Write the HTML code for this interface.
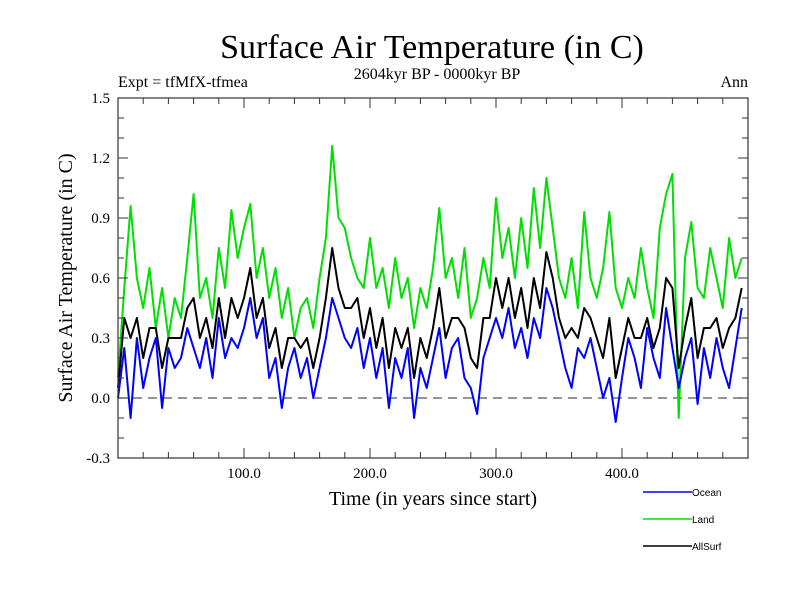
<!DOCTYPE html>
<html><head><meta charset="utf-8"><style>
body{margin:0;background:#fff}
svg text{font-family:"Liberation Serif",serif}
</style></head><body>
<svg id="c" width="800" height="600" xmlns="http://www.w3.org/2000/svg">
<text x="432" y="58" font-size="34" text-anchor="middle">Surface Air Temperature (in C)</text>
<text x="437" y="79" font-size="16" text-anchor="middle">2604kyr BP - 0000kyr BP</text>
<text x="118" y="87" font-size="16">Expt = tfMfX-tfmea</text>
<text x="748" y="87" font-size="16" text-anchor="end">Ann</text>
<text x="0" y="0" font-size="20" text-anchor="middle" transform="translate(72,278) rotate(-90)">Surface Air Temperature (in C)</text>
<text x="433" y="505" font-size="20" text-anchor="middle">Time (in years since start)</text>
<g id="series"></g>
<g id="axes"></g>
<g>
<line x1="643" y1="492" x2="692" y2="492" stroke="#0000ff" stroke-width="1.5"/>
<text x="692" y="496" font-size="10" style="font-family:'Liberation Sans',sans-serif">Ocean</text>
<line x1="643" y1="519" x2="692" y2="519" stroke="#00e000" stroke-width="1.5"/>
<text x="692" y="523" font-size="10" style="font-family:'Liberation Sans',sans-serif">Land</text>
<line x1="643" y1="546" x2="692" y2="546" stroke="#000" stroke-width="1.5"/>
<text x="692" y="550" font-size="10" style="font-family:'Liberation Sans',sans-serif">AllSurf</text>
</g>
</svg>
<script>
const years = [];
for (let i = 0; i < 100; i++) years.push(i * 5);
const land = [0.1,0.55,0.96,0.6,0.45,0.65,0.35,0.55,0.3,0.5,
0.4,0.7,1.02,0.5,0.6,0.4,0.75,0.55,0.94,0.7,
0.85,0.97,0.6,0.75,0.5,0.65,0.4,0.55,0.3,0.45,
0.5,0.35,0.6,0.8,1.26,0.9,0.85,0.7,0.6,0.55,
0.8,0.55,0.65,0.45,0.7,0.5,0.6,0.35,0.55,0.45,
0.65,0.95,0.6,0.7,0.5,0.75,0.4,0.5,0.7,0.55,
1.0,0.7,0.85,0.6,0.9,0.65,1.05,0.75,1.1,0.85,
0.6,0.5,0.7,0.45,0.93,0.6,0.5,0.65,0.93,0.55,
0.45,0.6,0.5,0.75,0.55,0.4,0.85,1.02,1.12,-0.1,
0.7,0.88,0.55,0.5,0.75,0.6,0.45,0.8,0.6,0.7];
const ocean = [0.0,0.25,-0.1,0.3,0.05,0.2,0.3,-0.05,0.25,0.15,
0.2,0.35,0.25,0.15,0.3,0.1,0.4,0.2,0.3,0.25,
0.35,0.5,0.3,0.4,0.1,0.2,-0.05,0.15,0.25,0.1,
0.2,0.0,0.15,0.3,0.5,0.4,0.3,0.25,0.35,0.15,
0.3,0.1,0.25,-0.05,0.2,0.1,0.25,-0.1,0.15,0.05,
0.2,0.35,0.1,0.25,0.3,0.1,0.05,-0.08,0.2,0.3,
0.4,0.3,0.45,0.25,0.35,0.2,0.4,0.3,0.55,0.45,
0.3,0.15,0.05,0.25,0.2,0.3,0.15,0.0,0.1,-0.12,
0.1,0.3,0.2,0.05,0.35,0.2,0.1,0.45,0.25,0.05,
0.2,0.3,-0.03,0.25,0.1,0.3,0.15,0.05,0.25,0.45];
const allsurf = [0.05,0.4,0.3,0.4,0.2,0.35,0.35,0.15,0.3,0.3,
0.3,0.45,0.5,0.3,0.4,0.25,0.5,0.3,0.5,0.4,
0.5,0.65,0.4,0.5,0.25,0.35,0.15,0.3,0.3,0.25,
0.3,0.15,0.3,0.5,0.75,0.55,0.45,0.45,0.5,0.3,
0.45,0.25,0.4,0.15,0.35,0.25,0.35,0.1,0.3,0.2,
0.35,0.55,0.3,0.4,0.4,0.35,0.2,0.15,0.4,0.4,
0.6,0.45,0.6,0.4,0.55,0.35,0.6,0.45,0.73,0.6,
0.4,0.3,0.35,0.3,0.45,0.4,0.3,0.2,0.4,0.1,
0.25,0.4,0.3,0.3,0.4,0.25,0.35,0.6,0.55,0.15,
0.35,0.5,0.2,0.35,0.35,0.4,0.25,0.35,0.4,0.55];
const yTickVals = [-0.3,0.0,0.3,0.6,0.9,1.2,1.5];
const yTickLabels = ["-0.3","0.0","0.3","0.6","0.9","1.2","1.5"];
const xTickVals = [100,200,300,400];
const xTickLabels = ["100.0","200.0","300.0","400.0"];

const L=118,R=748,T=98,B=458;
const xs = v => L + (v/500)*(R-L);
const ys = v => B - (v+0.3)/1.8*(B-T);
const NS="http://www.w3.org/2000/svg";
const sg=document.getElementById('series'), ag=document.getElementById('axes');
function mk(tag,attrs,parent){const e=document.createElementNS(NS,tag);for(const k in attrs)e.setAttribute(k,attrs[k]);parent.appendChild(e);return e;}

const zl=mk('line',{x1:L,x2:R,y1:ys(0),y2:ys(0),stroke:'#555','stroke-dasharray':'9,6','stroke-width':1.2},sg);


function line(data,color,name){
  const d=data.map((v,i)=>(i?'L':'M')+xs(years[i]).toFixed(1)+','+ys(v).toFixed(1)).join('');
  const p=mk('path',{d:d,fill:'none',stroke:color,'stroke-width':2,'stroke-linejoin':'round'},sg);
  
  
}
line(land,'#00e000','land-series');
line(allsurf,'#000000','allsurf-series');
line(ocean,'#0000ff','ocean-series');

const fr=mk('rect',{x:L,y:T,width:R-L,height:B-T,fill:'none',stroke:'#333','stroke-width':1.2},ag);


for(let v=-0.3;v<=1.501;v+=0.1){
  const y=ys(v);const major=Math.abs(Math.round(v*10)%3)===0;const len=major?10:6;
  mk('line',{x1:L,x2:L+len,y1:y,y2:y,stroke:'#333'},ag);
  mk('line',{x1:R,x2:R-len,y1:y,y2:y,stroke:'#333'},ag);
}
yTickVals.forEach((v,i)=>{
  const t=mk('text',{x:L-8,y:ys(v)+5,'font-size':15,'text-anchor':'end'},ag);
  t.textContent=yTickLabels[i];
  
  
});
for(let v=20;v<500;v+=20){
  const x=xs(v);const len=(v%100===0)?10:6;
  mk('line',{x1:x,x2:x,y1:B,y2:B-len,stroke:'#333'},ag);
  mk('line',{x1:x,x2:x,y1:T,y2:T+len,stroke:'#333'},ag);
}
xTickVals.forEach((v,i)=>{
  const t=mk('text',{x:xs(v),y:B+20,'font-size':15,'text-anchor':'middle'},ag);
  t.textContent=xTickLabels[i];
  
  
});
</script>
</body></html>
